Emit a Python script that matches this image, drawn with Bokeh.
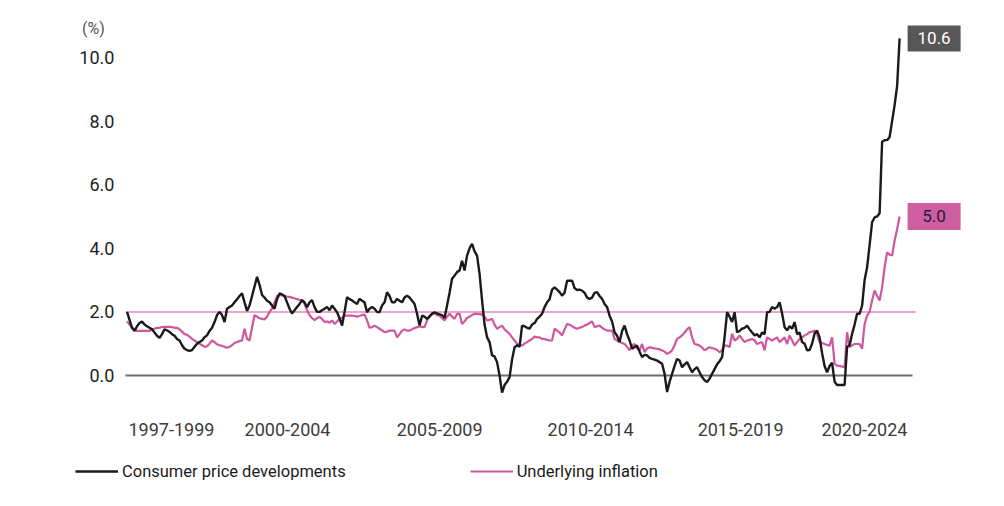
from bokeh.plotting import figure
from bokeh.models import FixedTicker, Legend, LegendItem, Label
from bokeh.core.properties import value
from bokeh.embed import file_html
from bokeh.resources import INLINE

# ---------------- data (annual % change, monthly, Jan 1997 - Oct 2022) ----------------
start_year = 1997

cpi_1997 = [2.0, 1.75, 1.5, 1.4, 1.55, 1.65, 1.7, 1.6, 1.55, 1.5, 1.45, 1.35]
cpi_1998 = [1.25, 1.18, 1.3, 1.45, 1.42, 1.37, 1.3, 1.25, 1.15, 1.1, 0.95, 0.84]
cpi_1999 = [0.8, 0.77, 0.8, 0.9, 1.0, 1.05, 1.1, 1.2, 1.26, 1.4, 1.5, 1.68]
cpi_2000 = [1.9, 2.0, 1.9, 1.68, 2.1, 2.15, 2.2, 2.3, 2.4, 2.5, 2.58, 2.3]
cpi_2001 = [2.03, 2.2, 2.5, 2.8, 3.1, 2.85, 2.53, 2.45, 2.35, 2.3, 2.2, 2.1]
cpi_2002 = [2.4, 2.58, 2.55, 2.5, 2.3, 2.1, 1.95, 2.05, 2.15, 2.25, 2.37, 2.3]
cpi_2003 = [2.15, 2.3, 2.37, 2.15, 2.0, 2.0, 2.05, 2.1, 2.15, 2.05, 2.2, 2.1]
cpi_2004 = [1.99, 1.8, 1.57, 2.0, 2.46, 2.4, 2.36, 2.3, 2.25, 2.41, 2.35, 2.3]
cpi_2005 = [1.99, 2.1, 2.15, 2.1, 2.0, 1.99, 2.2, 2.3, 2.62, 2.5, 2.3, 2.3]
cpi_2006 = [2.41, 2.35, 2.3, 2.45, 2.51, 2.45, 2.35, 2.25, 1.94, 1.57, 1.88, 1.85]
cpi_2007 = [1.78, 1.85, 1.95, 1.99, 1.95, 1.92, 1.9, 1.81, 2.2, 2.6, 3.04, 3.14]
cpi_2008 = [3.25, 3.3, 3.61, 3.3, 3.77, 4.0, 4.14, 3.9, 3.77, 3.2, 2.36, 1.6]
cpi_2009 = [1.2, 1.05, 0.63, 0.6, 0.42, 0.0, -0.54, -0.3, -0.2, -0.05, 0.5, 0.89]
cpi_2010 = [0.95, 0.9, 1.57, 1.55, 1.5, 1.47, 1.6, 1.65, 1.78, 1.85, 1.94, 2.15]
cpi_2011 = [2.3, 2.4, 2.7, 2.77, 2.7, 2.62, 2.51, 2.6, 2.98, 2.98, 2.98, 2.75]
cpi_2012 = [2.69, 2.7, 2.67, 2.6, 2.45, 2.41, 2.45, 2.6, 2.62, 2.5, 2.41, 2.25]
cpi_2013 = [2.15, 1.88, 1.7, 1.36, 1.25, 1.05, 1.4, 1.57, 1.3, 1.1, 0.84, 0.9]
cpi_2014 = [0.94, 0.75, 0.58, 0.65, 0.63, 0.55, 0.52, 0.5, 0.47, 0.42, 0.37, 0.05]
cpi_2015 = [-0.52, -0.2, 0.05, 0.3, 0.52, 0.47, 0.26, 0.35, 0.42, 0.26, 0.1, 0.2]
cpi_2016 = [0.26, 0.1, -0.05, -0.15, -0.21, -0.1, 0.05, 0.2, 0.35, 0.45, 0.58, 1.2]
cpi_2017 = [1.99, 1.85, 1.68, 1.99, 1.36, 1.4, 1.47, 1.5, 1.57, 1.45, 1.35, 1.26]
cpi_2018 = [1.3, 1.2, 1.35, 1.3, 1.99, 2.0, 2.15, 2.1, 2.15, 2.3, 1.95, 1.52]
cpi_2019 = [1.42, 1.55, 1.47, 1.68, 1.3, 1.35, 1.05, 1.0, 0.79, 0.8, 1.0, 1.32]
cpi_2020 = [1.41, 1.2, 0.7, 0.3, 0.1, 0.3, 0.4, -0.2, -0.3, -0.3, -0.3, -0.3]
cpi_2021 = [0.9, 0.95, 1.31, 1.6, 1.94, 1.94, 2.2, 3.0, 3.4, 4.1, 4.82, 4.97]
cpi_2022 = [5.0, 5.1, 7.35, 7.4, 7.4, 7.5, 8.0, 8.5, 9.1, 10.6]

core_1997 = [1.7, 1.6, 1.5, 1.45, 1.4, 1.4, 1.4, 1.4, 1.4, 1.4, 1.45, 1.47]
core_1998 = [1.5, 1.5, 1.52, 1.53, 1.53, 1.53, 1.52, 1.5, 1.5, 1.45, 1.38, 1.3]
core_1999 = [1.28, 1.22, 1.15, 1.1, 1.05, 1.0, 0.95, 0.9, 0.92, 1.0, 1.1, 1.05]
core_2000 = [0.98, 0.95, 0.93, 0.9, 0.87, 0.9, 0.95, 1.02, 1.05, 1.08, 1.1, 1.47]
core_2001 = [1.15, 1.1, 1.5, 1.9, 1.85, 1.8, 1.78, 1.76, 1.85, 2.0, 2.1, 2.3]
core_2002 = [2.5, 2.53, 2.52, 2.5, 2.48, 2.47, 2.45, 2.43, 2.4, 2.38, 2.37, 2.25]
core_2003 = [2.05, 1.9, 1.8, 1.74, 1.8, 1.84, 1.78, 1.68, 1.7, 1.66, 1.73, 1.62]
core_2004 = [1.7, 1.78, 1.82, 1.88, 1.88, 1.88, 1.88, 1.87, 1.85, 1.87, 1.9, 1.92]
core_2005 = [1.73, 1.5, 1.52, 1.57, 1.52, 1.47, 1.42, 1.36, 1.38, 1.41, 1.41, 1.41]
core_2006 = [1.2, 1.3, 1.41, 1.45, 1.41, 1.41, 1.45, 1.49, 1.52, 1.54, 1.53, 1.52]
core_2007 = [1.73, 1.88, 1.92, 1.96, 1.9, 1.88, 1.8, 1.73, 1.85, 1.94, 1.85, 1.78]
core_2008 = [1.94, 1.94, 1.62, 1.7, 1.81, 1.85, 1.9, 1.94, 1.94, 1.93, 1.92, 1.85]
core_2009 = [1.73, 1.75, 1.78, 1.6, 1.47, 1.52, 1.57, 1.45, 1.38, 1.31, 1.2, 1.1]
core_2010 = [1.0, 0.97, 0.94, 1.0, 1.05, 1.1, 1.15, 1.22, 1.2, 1.2, 1.15, 1.15]
core_2011 = [1.12, 1.1, 1.1, 1.47, 1.41, 1.35, 1.26, 1.45, 1.62, 1.6, 1.55, 1.5]
core_2012 = [1.47, 1.5, 1.52, 1.57, 1.6, 1.65, 1.7, 1.52, 1.55, 1.57, 1.5, 1.45]
core_2013 = [1.41, 1.41, 1.41, 1.15, 1.1, 1.05, 1.02, 0.99, 0.9, 0.79, 0.95, 0.99]
core_2014 = [0.85, 0.79, 0.99, 0.73, 0.85, 0.89, 0.87, 0.85, 0.84, 0.82, 0.79, 0.75]
core_2015 = [0.68, 0.72, 0.79, 0.95, 1.15, 1.2, 1.26, 1.35, 1.45, 1.52, 1.2, 0.99]
core_2016 = [0.97, 0.94, 0.88, 0.79, 0.84, 0.89, 0.86, 0.84, 0.8, 0.73, 0.8, 0.94]
core_2017 = [0.94, 0.89, 1.31, 1.1, 1.15, 1.26, 1.15, 1.05, 1.1, 1.12, 1.15, 1.1]
core_2018 = [0.99, 1.02, 1.05, 0.79, 1.2, 1.15, 1.1, 1.15, 1.2, 1.05, 1.12, 1.2]
core_2019 = [0.99, 1.26, 1.1, 0.94, 1.05, 1.15, 1.2, 1.26, 1.3, 1.36, 1.38, 1.41]
core_2020 = [1.3, 1.05, 1.02, 0.99, 0.96, 0.94, 1.2, 0.37, 0.31, 0.3, 0.28, 0.26]
core_2021 = [1.36, 0.89, 0.95, 0.99, 0.99, 0.99, 0.84, 1.62, 1.88, 2.0, 2.36, 2.67]
core_2022 = [2.5, 2.36, 2.77, 3.4, 3.87, 3.8, 3.77, 4.24, 4.6, 5.0]

target = 2.0

y_ticks = [0, 2, 4, 6, 8, 10]
y_tick_labels = ["0.0", "2.0", "4.0", "6.0", "8.0", "10.0"]
period_labels = ["1997-1999", "2000-2004", "2005-2009", "2010-2014", "2015-2019", "2020-2024"]
period_label_pos = [1998.48, 2002.35, 2007.42, 2012.45, 2017.45, 2021.58]

series_name_cpi = "Consumer price developments"
series_name_core = "Underlying inflation"

# ---------------- assemble ----------------
cpi = (cpi_1997 + cpi_1998 + cpi_1999 + cpi_2000 + cpi_2001 + cpi_2002 + cpi_2003 +
       cpi_2004 + cpi_2005 + cpi_2006 + cpi_2007 + cpi_2008 + cpi_2009 + cpi_2010 +
       cpi_2011 + cpi_2012 + cpi_2013 + cpi_2014 + cpi_2015 + cpi_2016 + cpi_2017 +
       cpi_2018 + cpi_2019 + cpi_2020 + cpi_2021 + cpi_2022)
core = (core_1997 + core_1998 + core_1999 + core_2000 + core_2001 + core_2002 + core_2003 +
        core_2004 + core_2005 + core_2006 + core_2007 + core_2008 + core_2009 + core_2010 +
        core_2011 + core_2012 + core_2013 + core_2014 + core_2015 + core_2016 + core_2017 +
        core_2018 + core_2019 + core_2020 + core_2021 + core_2022)
months = [start_year + i / 12 for i in range(len(cpi))]

FONT = "Roboto"
BLACK = "#1a1a1a"
PINK = "#d0579d"
PINK_LIGHT = "#e9a7d0"
GREY_BOX = "#575757"
PINK_BOX = "#cf5ea0"

p = figure(width=988, height=490, output_backend="svg", toolbar_location=None,
           x_range=(1992.783, 2025.713), y_range=(-3.617, 11.792), min_border=0)
p.outline_line_color = None
p.grid.visible = False
p.background_fill_color = "white"
p.border_fill_color = "white"

# reference lines
line_start = months[0] - 0.05
p.segment(x0=[line_start], y0=[0], x1=[months[-1] + 0.43], y1=[0],
          line_color="#6e6e6e", line_width=2)
p.segment(x0=[line_start], y0=[target], x1=[months[-1] + 0.53], y1=[target],
          line_color=PINK_LIGHT, line_width=2)

r_core = p.line(months, core, line_color=PINK, line_width=2.2)
r_cpi = p.line(months, cpi, line_color=BLACK, line_width=2.4)

# end-value labels
lab_x = months[-1] + 1.15
p.rect(x=[lab_x], y=[cpi[-1]], width=53, height=26, width_units="screen",
       height_units="screen", fill_color=GREY_BOX, line_color=None)
p.text(x=[lab_x], y=[cpi[-1]], text=[f"{cpi[-1]:.1f}"], text_align="center",
       text_baseline="middle", text_color="white", text_font=value(FONT),
       text_font_size="17px")
p.rect(x=[lab_x], y=[core[-1]], width=53, height=27, width_units="screen",
       height_units="screen", fill_color=PINK_BOX, line_color=None)
p.text(x=[lab_x], y=[core[-1]], text=[f"{core[-1]:.1f}"], text_align="center",
       text_baseline="middle", text_color="#1c1c38", text_font=value(FONT),
       text_font_size="17px")

# unit label
p.add_layout(Label(x=1995.88, y=10.91, text="(%)", text_align="center",
                   text_baseline="middle", text_color="#555555",
                   text_font=FONT, text_font_size="16px"))

# y axis
ya = p.yaxis[0]
ya.fixed_location = 1996.98
ya.ticker = FixedTicker(ticks=y_ticks)
ya.major_label_overrides = {t: l for t, l in zip(y_ticks, y_tick_labels)}
ya.axis_line_color = None
ya.major_tick_line_color = None
ya.minor_tick_line_color = None
ya.major_label_standoff = 6
ya.major_label_text_font = FONT
ya.major_label_text_font_size = "18px"
ya.major_label_text_color = "#1e1e1e"

# x axis
xa = p.xaxis[0]
xa.fixed_location = -1.16
xa.ticker = FixedTicker(ticks=period_label_pos)
xa.major_label_overrides = {t: l for t, l in zip(period_label_pos, period_labels)}
xa.axis_line_color = None
xa.major_tick_line_color = None
xa.minor_tick_line_color = None
xa.major_label_standoff = 5
xa.major_label_text_font = FONT
xa.major_label_text_font_size = "18px"
xa.major_label_text_color = "#3c3c3c"

legend = Legend(items=[LegendItem(label=series_name_cpi, renderers=[r_cpi]),
                       LegendItem(label=series_name_core, renderers=[r_core])],
                orientation="horizontal", location=(75, 9), padding=0, margin=0,
                spacing=124, glyph_width=43, glyph_height=20, label_height=20,
                label_standoff=4, border_line_color=None, background_fill_alpha=0,
                label_text_font=FONT, label_text_font_size="16.5px",
                label_text_color="#1a1a1a", label_text_baseline="middle")
p.add_layout(legend)

open("out.html", "w").write(file_html(p, INLINE))
